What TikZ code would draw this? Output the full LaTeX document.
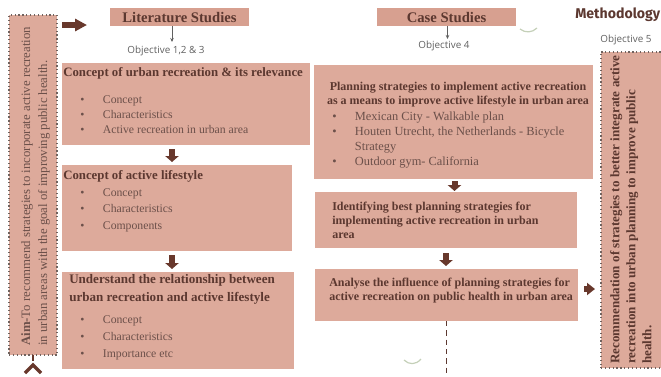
\documentclass[tikz,border=0pt]{standalone}
\usepackage{fontspec}
\setmainfont{Liberation Serif}
\newfontfamily\objfont{Open Sans}
\newfontfamily\methfont{Fira Sans}
\usetikzlibrary{arrows.meta, positioning, fit}

\definecolor{boxfill}{RGB}{221,170,155}
\definecolor{headfill}{RGB}{215,160,144}
\definecolor{titletext}{RGB}{92,56,48}
\definecolor{itemtext}{RGB}{108,80,74}
\definecolor{arrowbrown}{RGB}{104,56,44}
\definecolor{objgray}{RGB}{96,96,96}
\definecolor{dotline}{RGB}{112,98,94}
\definecolor{sage}{RGB}{196,208,184}

% bullet with a fixed indent
\newcommand{\bul}{\makebox[17pt][l]{\textbullet}}

\begin{document}
\begin{tikzpicture}[
  x=0.75pt, y=-0.75pt,
  box/.style={fill=boxfill, inner sep=0pt, outer sep=0pt},
  headbox/.style={fill=headfill, inner sep=0pt, outer sep=0pt},
  dotbox/.style={fill=boxfill, draw=dotline, dotted, line width=0.9pt, inner sep=0pt, outer sep=0pt},
  % multi-line texts hang from their top (a strut opens the first line)
  titletxt/.style={anchor=north west, inner sep=0pt, text=titletext, font=\bfseries\fontsize{9}{10.5}\selectfont, align=left},
  itemtxt/.style={anchor=north west, inner sep=0pt, text=itemtext, font=\fontsize{8.8}{11.25}\selectfont, align=left},
  headtxt/.style={text=titletext, inner sep=0pt, font=\bfseries\fontsize{11}{13}\selectfont},
  objtxt/.style={text=objgray, inner sep=0pt, font=\objfont\fontsize{7.4}{9}\selectfont},
  blockarrow/.style={draw=arrowbrown, line width=4.5pt, -{Triangle[width=10pt, length=4.5pt]}},
  thinarrow/.style={draw=objgray, line width=0.5pt, -{Stealth[length=3pt, width=2.6pt]}}
]
\useasboundingbox (0,0) rectangle (661,376);

% Aim (left)
\node[dotbox, fit={(9,15) (57,355)}] (aim) {};
\node[rotate=90, anchor=north west, inner sep=0pt, text=itemtext, align=left,
      font=\fontsize{9.6}{12.75}\selectfont] (aimtxt) at (18,346)
  {\strut\textbf{Aim-}To recommend strategies to incorporate active recreation\\
   in urban areas with the goal of improving public health.};
\coordinate (aimend) at ([shift={(0,6)}]aim.south);
\draw[arrowbrown, line width=1.2pt] (aim.south) -- (aimend);
\draw[arrowbrown, line width=2.4pt] ([shift={(-8,12)}]aimend) -- ([shift={(0,4)}]aimend) -- ([shift={(8,12)}]aimend);

% Headers
\node[headbox, fit={(110,8) (249,26)}] (lithead) {};
\node[headtxt] (lithtxt) at (lithead.center) {Literature Studies};
\node[headbox, fit={(377,8) (516,26)}] (casehead) {};
\node[headtxt] (casehtxt) at (casehead.center) {Case Studies};
\node[anchor=west, inner sep=0pt, text=titletext, font=\methfont\bfseries\fontsize{10.6}{12}\selectfont] (meth) at (575,15) {Methodology};

\node[objtxt] (obj1) at (166,51) {Objective 1,2 \& 3};
\node[objtxt] (obj4) at (444,46) {Objective 4};
\node[objtxt] (obj5) at (626,40) {Objective 5};
\draw[thinarrow] ([shift={(-7.5,0)}]lithead.south) -- ([shift={(-7.5,16)}]lithead.south);
\draw[thinarrow] ([shift={(1,0)}]casehead.south) -- ([shift={(1,13)}]casehead.south);

% top arrow towards literature studies
\coordinate (aimout) at ([shift={(5,10)}]aim.north east);
\coordinate (litin) at ([shift={(-23,17)}]lithead.north west);
\draw[blockarrow, line width=3.8pt, -{Triangle[width=9pt, length=9pt]}] (aimout) -- (litin);

% Literature boxes
\node[box, fit={(62,63) (310,145)}] (lit1) {};
\node[titletxt, anchor=base west, font=\bfseries\fontsize{9.6}{11}\selectfont] (lit1t) at (63,76) {Concept of urban recreation \& its relevance};
\node[itemtxt] (lit1i) at (80,92.5) {\strut\bul Concept\\ \bul Characteristics\\ \bul Active recreation in urban area};

\node[box, fit={(62,165) (292,251)}] (lit2) {};
\node[titletxt, anchor=base west, font=\bfseries\fontsize{9.6}{11}\selectfont] (lit2t) at (63,179) {Concept of active lifestyle};
\node[itemtxt, font=\fontsize{8.8}{12.4}\selectfont] (lit2i) at (80,184.4) {\strut\bul Concept\\ \bul Characteristics\\ \bul Components};

\node[box, fit={(62,272) (294,369)}] (lit3) {};
\node[titletxt, font=\bfseries\fontsize{9.8}{13.5}\selectfont] (lit3t) at (69,270.4) {\strut Understand the relationship between\\ urban recreation and active lifestyle};
\node[itemtxt, font=\fontsize{8.8}{12.75}\selectfont] (lit3i) at (80,311.1) {\strut\bul Concept\\ \bul Characteristics\\ \bul Importance etc};

\draw[blockarrow] ([shift={(-14,4)}]lit1.south) -- ([shift={(-14,-3)}]lit1.south |- lit2.north);
\draw[blockarrow] ([shift={(-5,4)}]lit2.south) -- ([shift={(-5,-3)}]lit2.south |- lit3.north);

% Case study boxes
\node[box, fit={(314,65) (593,179)}] (caseA) {};
\node[titletxt, anchor=north, align=center] (caseAt) at (458,80.2) {\strut Planning strategies to implement active recreation\\ as a means to improve active lifestyle in urban area};
\node[itemtxt, font=\fontsize{9.3}{11.25}\selectfont] (caseAi) at (332,109.5) {\strut\bul Mexican City - Walkable plan\\ \bul Houten Utrecht, the Netherlands - Bicycle\\ \hspace*{17pt}Strategy\\ \bul Outdoor gym- California};

\node[box, fit={(315,192) (577,248)}] (caseB) {};
\node[titletxt] (caseBt) at (332,200.2) {\strut Identifying best planning strategies for\\ implementing active recreation in urban\\ area};

\node[box, fit={(315,269) (578,321)}] (caseC) {};
\node[titletxt] (caseCt) at (329,276.2) {\strut Analyse the influence of planning strategies for\\ active recreation on public health in urban area};

\draw[blockarrow] ([shift={(1,2)}]caseA.south) -- ([shift={(1,-1)}]caseA.south |- caseB.north);
\draw[blockarrow] ([shift={(0,5)}]caseB.south) -- ([shift={(0,-3)}]caseB.south |- caseC.north);
\coordinate (caseend) at (caseC.south |- 0,376);
\draw[titletext, line width=1pt, dash pattern=on 4pt off 3pt] (caseC.south) -- (caseend);

% Recommendation (right)
\node[dotbox, fit={(601,52) (670,368)}] (rec) {};
\node[rotate=90, anchor=north west, inner sep=0pt, text=titletext, align=left,
      font=\bfseries\fontsize{9.8}{12}\selectfont] (rectxt) at (608,364)
  {\strut Recommendation of strategies to better integrate active\\
   recreation into urban planning to improve public\\
   health.};
\draw[blockarrow, line width=3.8pt, -{Triangle[width=9pt, length=6pt]}] ([shift={(6,-6)}]caseC.east) -- ([shift={(-6,-6)}]caseC.east -| rec.west);

% faint marks
\draw[sage, line width=0.9pt] (520,29) .. controls (525,33) and (532,33) .. (537,28);
\draw[sage, line width=0.9pt] (404,360) .. controls (409,365) and (416,365) .. (421,359);

\end{tikzpicture}
\end{document}
